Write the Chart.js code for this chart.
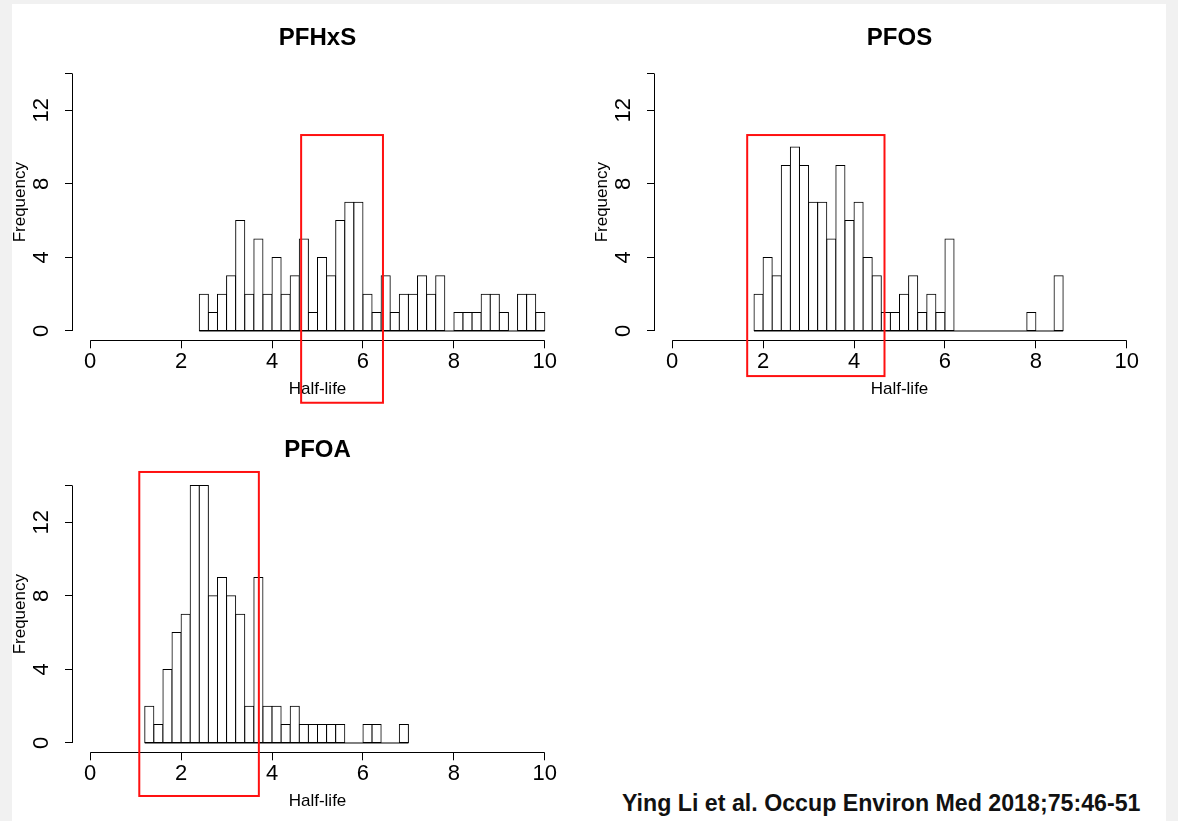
<!DOCTYPE html>
<html>
<head>
<meta charset="utf-8">
<script src="https://cdn.jsdelivr.net/npm/chart.js@4.4.1/dist/chart.umd.min.js"></script>
<style>
  html, body { margin: 0; padding: 0; background: #f1f1f1; }
  #page { position: relative; width: 1178px; height: 821px; overflow: hidden; }
  #sheet { position: absolute; left: 12px; top: 4px; width: 1154px; height: 817px; background: #fff; }
  .panel { position: absolute; width: 581px; height: 410px; }
  .panel canvas { display: block; }
  #cite { position: absolute; left: 622px; top: 790px; line-height: 26px; font: bold 23.2px "Liberation Sans", Arial, sans-serif; color: #111; white-space: nowrap; }
</style>
</head>
<body>
<div id="page">
  <div id="sheet"></div>
  <div class="panel" style="left:0;top:0"><canvas id="pfhxs" width="581" height="410"></canvas></div>
  <div class="panel" style="left:582px;top:0"><canvas id="pfos" width="581" height="410"></canvas></div>
  <div class="panel" style="left:0;top:412px"><canvas id="pfoa" width="581" height="410"></canvas></div>
  <div id="cite">Ying Li et al. Occup Environ Med 2018;75:46-51</div>
</div>
<script>
const binWidth = 0.2;

const pfhxsStart = 2.4;
const pfhxsCounts = [2, 1, 2, 3, 6, 2, 5, 2, 4, 2, 3, 5, 1, 4, 3, 6, 7, 7, 2, 1,
                     3, 1, 2, 2, 3, 2, 3, 0, 1, 1, 1, 2, 2, 1, 0, 2, 2, 1];

const pfosStart = 1.8;
const pfosCounts = [2, 4, 3, 9, 10, 9, 7, 7, 5, 9, 6, 7, 4, 3, 1, 1, 2, 3, 1, 2,
                    1, 5, 0, 0, 0, 0, 0, 0, 0, 0, 1, 0, 0, 3];

const pfoaStart = 1.2;
const pfoaCounts = [2, 1, 4, 6, 7, 14, 14, 8, 9, 8, 7, 2, 9, 2, 2, 1, 2, 1, 1, 1,
                    1, 1, 0, 0, 1, 1, 0, 0, 1];

const xTicks = [0, 2, 4, 6, 8, 10];
const yTicks = [0, 4, 8, 12, 14];
const yTickLabels = ['0', '4', '8', '12', ''];

// red highlight boxes in data units: [xFrom, xTo, yFrom, yTo]
const pfhxsBox = [4.64, 6.44, -3.9, 10.65];
const pfosBox = [1.65, 4.67, -2.45, 10.65];
const pfoaBox = [1.08, 3.71, -2.88, 14.73];

Chart.defaults.font.family = '"Liberation Sans", Arial, sans-serif';
Chart.defaults.color = '#000';

// R style axes: lines only span the tick range, y labels turned
const rAxes = {
    id: 'rAxes',
    afterDraw(chart, args, opts) {
        const ctx = chart.ctx;
        const xs = chart.scales.x, ys = chart.scales.y;
        const area = chart.chartArea;
        ctx.save();
        ctx.strokeStyle = '#000';
        ctx.lineWidth = 1;

        // baseline under the bins (shows the empty ones too)
        const y0 = ys.getPixelForValue(0);
        ctx.beginPath();
        ctx.moveTo(xs.getPixelForValue(opts.start), y0);
        ctx.lineTo(xs.getPixelForValue(opts.start + opts.n * binWidth), y0);
        ctx.stroke();

        const yb = Math.round(area.bottom) - 0.5;
        ctx.beginPath();
        ctx.moveTo(xs.getPixelForValue(xTicks[0]), yb);
        ctx.lineTo(xs.getPixelForValue(xTicks[xTicks.length - 1]), yb);
        ctx.stroke();

        const xl = Math.round(area.left) + 0.5;
        ctx.beginPath();
        ctx.moveTo(xl, ys.getPixelForValue(yTicks[0]));
        ctx.lineTo(xl, ys.getPixelForValue(yTicks[yTicks.length - 1]));
        ctx.stroke();

        ctx.fillStyle = '#000';
        ctx.font = '22px "Liberation Sans", Arial, sans-serif';
        ctx.textAlign = 'center';
        ctx.textBaseline = 'middle';
        yTicks.forEach((v, i) => {
            ctx.save();
            ctx.translate(area.left - 30, ys.getPixelForValue(v));
            ctx.rotate(-Math.PI / 2);
            ctx.fillText(yTickLabels[i], 0, 0);
            ctx.restore();
        });

        const b = opts.box;
        const bx0 = xs.getPixelForValue(b[0]), bx1 = xs.getPixelForValue(b[1]);
        const by0 = ys.getPixelForValue(b[2]), by1 = ys.getPixelForValue(b[3]);
        ctx.strokeStyle = '#ff1010';
        ctx.lineWidth = 2;
        ctx.strokeRect(bx0, by1, bx1 - bx0, by0 - by1);
        ctx.restore();
    }
};

function histo(id, name, start, counts, box) {
    const pts = counts.map((c, i) => ({ x: +(start + binWidth * (i + 0.5)).toFixed(2), y: c }));
    return new Chart(document.getElementById(id), {
        type: 'bar',
        data: {
            datasets: [{
                data: pts,
                backgroundColor: '#fff',
                borderColor: '#000',
                borderWidth: 1,
                inflateAmount: 0.5,   // centres the 1px outline on the bin edge, like R's rect()
                borderSkipped: false,
                barPercentage: 1,
                categoryPercentage: 1
            }]
        },
        options: {
            responsive: false,
            animation: false,
            layout: { padding: { left: 0, right: 18, top: 0, bottom: 0 } },
            plugins: {
                legend: { display: false },
                tooltip: { enabled: false },
                title: {
                    display: true, text: name, fullSize: false, color: '#000',
                    font: { size: 24, weight: 'bold' },
                    padding: { top: 23.6, bottom: 10.7 }
                },
                rAxes: { start: start, n: counts.length, box: box }
            },
            scales: {
                x: {
                    type: 'linear', min: -0.4, max: 10.4, offset: false,
                    afterBuildTicks: s => { s.ticks = xTicks.map(v => ({ value: v })); },
                    afterFit: s => { s.height = 68.7; },
                    border: { display: false },
                    grid: { drawOnChartArea: false, tickLength: 7, color: '#000', offset: false },
                    ticks: { color: '#000', font: { size: 22 }, padding: 0, autoSkip: false, maxRotation: 0 },
                    title: { display: true, text: 'Half-life', color: '#000', font: { size: 17 }, padding: { top: 0, bottom: 10 } }
                },
                y: {
                    min: -0.56, max: 14.56,
                    afterBuildTicks: s => { s.ticks = yTicks.map(v => ({ value: v })); },
                    afterFit: s => { s.width = 72; },
                    border: { display: false },
                    grid: { drawOnChartArea: false, tickLength: 7, color: '#000' },
                    ticks: { display: false },
                    title: { display: true, text: 'Frequency', color: '#000', font: { size: 17 }, padding: { top: 10, bottom: 0 } }
                }
            }
        },
        plugins: [rAxes]
    });
}

histo('pfhxs', 'PFHxS', pfhxsStart, pfhxsCounts, pfhxsBox);
histo('pfos', 'PFOS', pfosStart, pfosCounts, pfosBox);
histo('pfoa', 'PFOA', pfoaStart, pfoaCounts, pfoaBox);
</script>
</body>
</html>
